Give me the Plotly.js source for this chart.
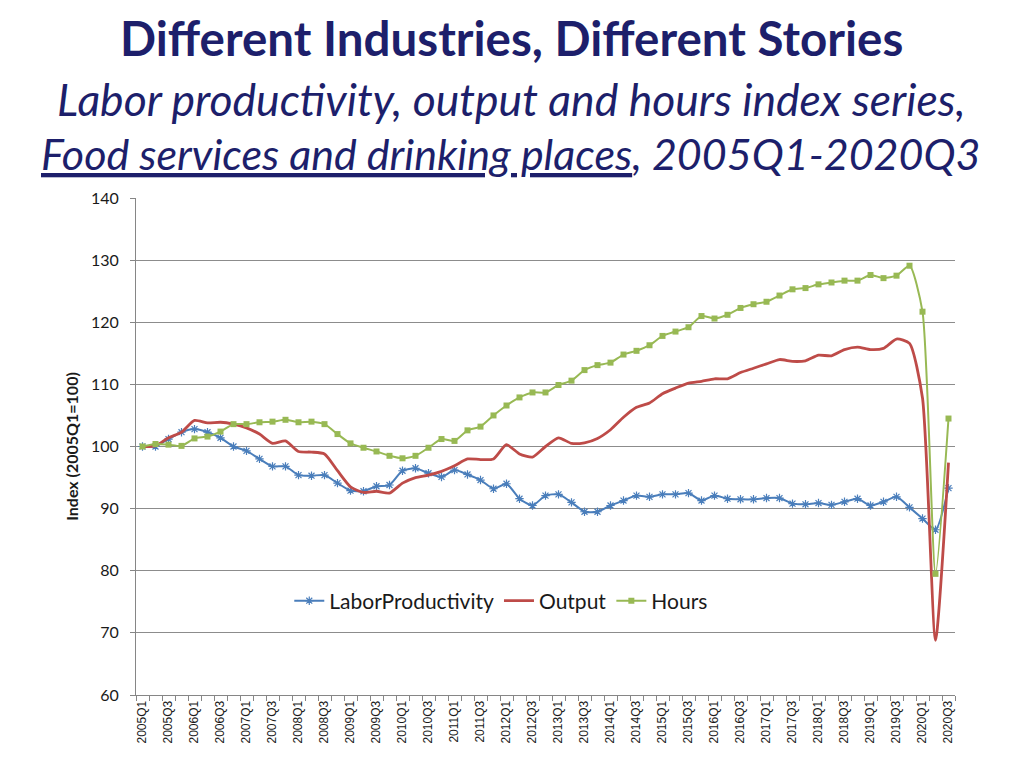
<!DOCTYPE html>
<html>
<head>
<meta charset="utf-8">
<script src="https://cdn.plot.ly/plotly-3.0.1.min.js"></script>
<style>
html,body{margin:0;padding:0;background:#fff;}
#chart{width:1024px;height:768px;}
</style>
</head>
<body>
<div id="chart"></div>
<script>
// Quarters 2005Q1 .. 2020Q3
const quarters = [];
for (let y = 2005; y <= 2020; y++) {
  for (let q = 1; q <= 4; q++) {
    if (y === 2020 && q > 3) break;
    quarters.push(y + 'Q' + q);
  }
}
const tickLabels = quarters.map((q, i) => (i % 2 === 0 ? q : ''));

const laborProductivity = [
  100.0, 100.0, 101.2, 102.3, 102.8, 102.3, 101.4, 100.0, 99.3, 98.0,
  96.8, 96.8, 95.4, 95.3, 95.4, 94.1, 92.9, 92.8, 93.6, 93.8,
  96.1, 96.5, 95.7, 95.1, 96.2, 95.5, 94.6, 93.2, 94.0, 91.6,
  90.5, 92.1, 92.3, 91.0, 89.5, 89.5, 90.5, 91.3, 92.1, 91.9,
  92.3, 92.3, 92.5, 91.3, 92.1, 91.6, 91.5, 91.5, 91.7, 91.7,
  90.8, 90.7, 90.9, 90.6, 91.1, 91.6, 90.5, 91.1, 91.9, 90.2,
  88.4, 86.6, 93.3
];
const output = [
  100.0, 100.1, 101.4, 102.3, 104.2, 103.8, 103.9, 103.6, 103.0, 102.0,
  100.5, 100.9, 99.2, 99.1, 98.8, 96.1, 93.5, 92.6, 92.8, 92.5,
  94.1, 95.0, 95.4, 96.0, 96.9, 98.0, 97.9, 98.0, 100.3, 98.8,
  98.3, 100.0, 101.4, 100.5, 100.6, 101.3, 102.7, 104.7, 106.3, 107.0,
  108.5, 109.4, 110.2, 110.5, 110.9, 110.9, 111.9, 112.6, 113.3, 114.0,
  113.7, 113.8, 114.7, 114.6, 115.6, 116.0, 115.6, 115.8, 117.3, 116.6,
  107.8, 68.8, 97.4
];
const hours = [
  100.0, 100.4, 100.3, 100.1, 101.3, 101.6, 102.4, 103.6, 103.6, 103.9,
  104.0, 104.3, 103.9, 104.0, 103.6, 102.0, 100.5, 99.8, 99.2, 98.5,
  98.1, 98.5, 99.8, 101.2, 100.9, 102.6, 103.2, 105.0, 106.6, 107.9,
  108.7, 108.7, 109.9, 110.6, 112.3, 113.1, 113.5, 114.8, 115.4, 116.3,
  117.8, 118.5, 119.2, 121.0, 120.6, 121.2, 122.3, 122.9, 123.3, 124.3,
  125.3, 125.5, 126.1, 126.4, 126.7, 126.7, 127.6, 127.1, 127.5, 129.1,
  121.7, 79.5, 104.5
];

const navy = '#1d1f6b';
const traces = [
  {
    x: quarters, y: laborProductivity, name: 'LaborProductivity', type: 'scatter', mode: 'lines+markers',
    line: {color: '#4A7EBB', width: 2, shape: 'spline', smoothing: 0.6},
    marker: {symbol: 'asterisk-open', size: 7, color: '#4A7EBB', line: {color: '#4A7EBB', width: 1.2}}
  },
  {
    x: quarters, y: output, name: 'Output', type: 'scatter', mode: 'lines',
    line: {color: '#BE4B48', width: 2.8, shape: 'spline', smoothing: 0.6}
  },
  {
    x: quarters, y: hours, name: 'Hours', type: 'scatter', mode: 'lines+markers',
    line: {color: '#98B954', width: 2, shape: 'spline', smoothing: 0.6},
    marker: {symbol: 'square', size: 6, color: '#98B954'}
  }
];

const layout = {
  width: 1024, height: 768,
  paper_bgcolor: '#ffffff', plot_bgcolor: '#ffffff',
  margin: {l: 136, r: 69, t: 198, b: 73},
  showlegend: true,
  legend: {
    orientation: 'h', x: 0.446, xanchor: 'center', y: 0.189, yanchor: 'middle',
    font: {family: 'Lato, Open Sans, sans-serif', size: 21, color: '#1a1a1a'},
    bgcolor: 'rgba(0,0,0,0)', itemwidth: 30, traceorder: 'normal'
  },
  xaxis: {
    type: 'category', categoryorder: 'array', categoryarray: quarters,
    tickvals: quarters, ticktext: tickLabels, tickangle: -90,
    tickson: 'boundaries', ticks: 'outside', ticklen: 5, tickcolor: '#868686',
    showgrid: false, showline: true, linecolor: '#868686', linewidth: 1,
    tickfont: {family: 'Liberation Sans, Arial, sans-serif', size: 12, color: '#1a1a1a'},
    range: [-0.5, 62.5], zeroline: false
  },
  yaxis: {
    range: [60, 140], dtick: 10, tick0: 60,
    showgrid: true, gridcolor: '#8c8c8c', gridwidth: 1,
    showline: true, linecolor: '#868686', linewidth: 1,
    ticks: 'outside', ticklen: 5, tickcolor: '#868686', ticklabelstandoff: 8,
    zeroline: false,
    tickfont: {family: 'Lato, Open Sans, sans-serif', size: 16, color: '#1a1a1a'},
    title: {text: '<b>Index (2005Q1=100)</b>', standoff: 8,
      font: {family: 'Lato, Open Sans, sans-serif', size: 16, color: '#1a1a1a'}}
  },
  annotations: [
    {
      text: '<b>Different Industries, Different Stories</b>',
      xref: 'paper', yref: 'paper', x: 0.459, y: 1.322, xanchor: 'center', yanchor: 'middle',
      showarrow: false, font: {family: 'Lato, Open Sans, sans-serif', size: 47.5, color: navy}
    },
    {
      text: '<i>Labor productivity, output and hours index series,</i>',
      xref: 'paper', yref: 'paper', x: 0.4585, y: 1.201, xanchor: 'center', yanchor: 'middle',
      showarrow: false, font: {family: 'Lato, Open Sans, sans-serif', size: 44.5, color: navy}
    },
    {
      text: '<i><u>Food services and drinking places</u>, 2005Q1-2020Q3</i>',
      xref: 'paper', yref: 'paper', x: 0.458, y: 1.0905, xanchor: 'center', yanchor: 'middle',
      showarrow: false, font: {family: 'Lato, Open Sans, sans-serif', size: 43, color: navy}
    }
  ]
};

Plotly.newPlot('chart', traces, layout, {displayModeBar: false, staticPlot: true});
</script>
</body>
</html>
